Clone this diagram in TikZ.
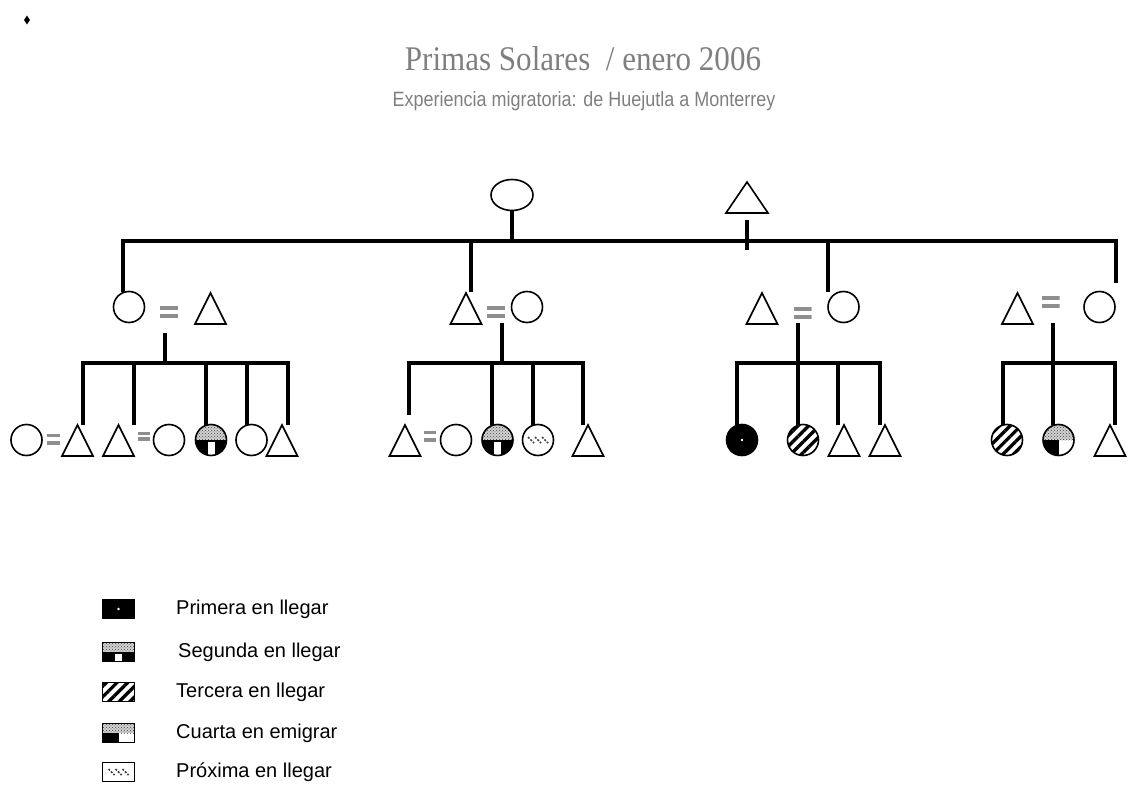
\documentclass[tikz,border=0pt]{standalone}
\usepackage{fontspec}
\setmainfont{Liberation Sans}
\newfontfamily\titulofont{Liberation Serif}
\usepackage{tikz}
\usetikzlibrary{positioning,shapes.geometric,patterns,patterns.meta,calc}
\definecolor{gris}{HTML}{8F8F8F}
\definecolor{grisletra}{HTML}{7F7F7F}

\begin{document}
\begin{tikzpicture}[x=1pt, y=-1pt,
  mujer/.style={circle, draw, line width=1.6pt, minimum size=31pt, inner sep=0pt, outer sep=0pt},
  hombre/.style={isosceles triangle, isosceles triangle stretches, shape border rotate=90, draw,
                 line width=1.6pt, minimum width=31pt, minimum height=31pt, inner sep=0pt, outer sep=0pt, anchor=apex},
  igual/.style={minimum width=18pt, minimum height=12pt, inner sep=0pt, path picture={
      \fill[gris] (path picture bounding box.north west) rectangle ($(path picture bounding box.north east)!0.35!(path picture bounding box.south east)$);
      \fill[gris] ($(path picture bounding box.north west)!0.65!(path picture bounding box.south west)$) rectangle (path picture bounding box.south east);}},
  barra/.style={line width=4pt},
  primera/.style={fill=black, path picture={\fill[white] (path picture bounding box.center) circle (1.3pt);}},
  segunda/.style={path picture={
      \fill[gray!35] (path picture bounding box.north west) rectangle (path picture bounding box.east);
      \fill[pattern=crosshatch dots, pattern color=black!75] (path picture bounding box.north west) rectangle (path picture bounding box.east);
      \fill[black] (path picture bounding box.west) rectangle (path picture bounding box.south east);
      \fill[white] ([xshift=-3.5pt,yshift=-1.5pt]path picture bounding box.center) rectangle ([xshift=3.5pt]path picture bounding box.south);}},
  tercera/.style={pattern={Lines[angle=45, distance=7.5pt, line width=3.3pt]}, pattern color=black},
  cuarta/.style={path picture={
      \fill[gray!35] (path picture bounding box.north west) rectangle (path picture bounding box.east);
      \fill[pattern=crosshatch dots, pattern color=black!75] (path picture bounding box.north west) rectangle (path picture bounding box.east);
      \fill[black] (path picture bounding box.west) rectangle (path picture bounding box.south);}},
  proxima/.style={path picture={
      \foreach \d in {-7,0,7}
        \draw[black!75, line width=1.5pt, dash pattern=on 2pt off 1.5pt]
          ([xshift=\d pt-3pt, yshift=3pt]path picture bounding box.center) -- ++(6,6);}},
  leyenda/.style={rectangle, draw, line width=1pt, minimum width=32pt, minimum height=19pt, inner sep=0pt},
  texto/.style={font=\fontsize{20}{24}\selectfont, inner sep=0pt}
]
\useasboundingbox (0,0) rectangle (1128,789);

\node[diamond, fill=black, minimum width=6pt, minimum height=9pt, inner sep=0pt] (vineta) at (27,20) {};
\node[anchor=base, text=grisletra, font=\titulofont\fontsize{32}{36}\selectfont] (titulo) at (583,71) {\scalebox{0.97}[1.08]{Primas Solares\ \ / enero 2006}};
\node[anchor=base, text=grisletra, font=\fontsize{18}{22}\selectfont] (subtitulo) at (584,107) {\scalebox{1}[1.15]{Experiencia migratoria: de Huejutla a Monterrey}};

\node[ellipse, draw, line width=1.6pt, minimum width=42pt, minimum height=31pt, inner sep=0pt] (abuela) at (512,195) {};
\node[hombre, minimum width=42pt] (abuelo) at (747,182) {};

\node[mujer] (hija1) at (129,307) {};
\node[igual] (igual1) at (169,312) {};
\node[hombre] (yerno1) at (210.5,293) {};
\node[hombre] (hijo2) at (466,293) {};
\node[igual] (igual2) at (496,312) {};
\node[mujer] (nuera2) at (527,307) {};
\node[hombre] (yerno3) at (762,293) {};
\node[igual] (igual3) at (802.5,313) {};
\node[mujer] (hija3) at (843.5,307) {};
\node[hombre] (yerno4) at (1017.5,293) {};
\node[igual] (igual4) at (1050.5,302) {};
\node[mujer] (hija4) at (1099.5,307) {};

\node[mujer] (n11) at (26.5,440) {};
\node[igual, minimum width=13pt, minimum height=11pt] (i11) at (53.5,439) {};
\node[hombre] (n12) at (77.5,425) {};
\node[hombre] (n13) at (118.5,425) {};
\node[igual, minimum width=12pt, minimum height=9pt] (i12) at (144,436) {};
\node[mujer] (n14) at (169,440) {};
\node[mujer, segunda] (n15) at (211,440) {};
\node[mujer] (n16) at (251.5,440) {};
\node[hombre] (n17) at (282,425) {};

\node[hombre] (n21) at (405,425) {};
\node[igual, minimum width=12pt, minimum height=11pt] (i21) at (430,436) {};
\node[mujer] (n22) at (456,440) {};
\node[mujer, segunda] (n23) at (497.5,440) {};
\node[mujer, proxima] (n24) at (538,440) {};
\node[hombre] (n25) at (588,425) {};

\node[mujer, primera] (n31) at (742,440) {};
\node[mujer, tercera] (n32) at (803,440) {};
\node[hombre] (n33) at (844,425) {};
\node[hombre] (n34) at (885,425) {};

\node[mujer, tercera] (n41) at (1007,440) {};
\node[mujer, cuarta] (n42) at (1058.5,440) {};
\node[hombre] (n43) at (1110,425) {};

\coordinate (tope) at (512,241);
\coordinate (h1) at (165,363);
\coordinate (h2) at (502,363);
\coordinate (h3) at (798,363);
\coordinate (h4) at (1053,363);

\draw[barra] (abuela.south) -- (abuela.south |- tope);
\draw[barra] ([yshift=-38pt]abuelo.apex) -- ++(0,30);
\draw[barra] ([xshift=-6pt]hija1.north) |- (tope) -| ([xshift=16pt,yshift=9pt]hija4.north);
\draw[barra] ([xshift=5pt,yshift=1pt]hijo2.apex) -- ++(0,-51);
\draw[barra] ([xshift=-16pt]hija3.north) -- ++(0,-51);

\draw[barra] ([xshift=-4pt,yshift=-15pt]igual1.south) -- (h1);
\draw[barra] ([xshift=6pt,yshift=-5pt]igual2.south) -- (h2);
\draw[barra] ([xshift=-4.5pt,yshift=-4pt]igual3.south) -- (h3);
\draw[barra] ([xshift=2.5pt,yshift=-15pt]igual4.south) -- (h4);

\draw[barra] ([xshift=5.5pt]n12.apex) |- (h1) -| ([xshift=5.5pt]n17.apex);
\foreach \n/\d in {n13.apex/15.5, n15.north/-5, n16.north/-4.5}
  \draw[barra] ([xshift=\d pt]\n) -- ++(0,-62);
\draw[barra] ([xshift=4pt,yshift=10pt]n21.apex) |- (h2) -| ([xshift=-5pt]n25.apex);
\foreach \n/\d in {n23.north/-5.5, n24.north/-5}
  \draw[barra] ([xshift=\d pt]\n) -- ++(0,-62);
\draw[barra] ([xshift=-5pt]n31.north) |- (h3) -| ([xshift=-5pt]n34.apex);
\foreach \n/\d in {n32.north/-5, n33.apex/-6}
  \draw[barra] ([xshift=\d pt]\n) -- ++(0,-62);
\draw[barra] ([xshift=-4pt]n41.north) |- (h4) -| ([xshift=5pt]n43.apex);
\draw[barra] ([xshift=-5.5pt]n42.north) -- ++(0,-62);

\node[leyenda, primera] (l1) at (118.5,609) {};
\node[leyenda, segunda] (l2) at (118.5,652) {};
\node[leyenda, tercera] (l3) at (118.5,692) {};
\node[leyenda, cuarta] (l4) at (118.5,733) {};
\node[leyenda, proxima] (l5) at (118.5,772) {};
\node[texto, right=41pt of l1] (t1) {Primera en llegar};
\node[texto, right=43pt of l2] (t2) {Segunda en llegar};
\node[texto, right=41pt of l3] (t3) {Tercera en llegar};
\node[texto, right=41pt of l4] (t4) {Cuarta en emigrar};
\node[texto, right=41pt of l5] (t5) {Próxima en llegar};
\end{tikzpicture}
\end{document}
